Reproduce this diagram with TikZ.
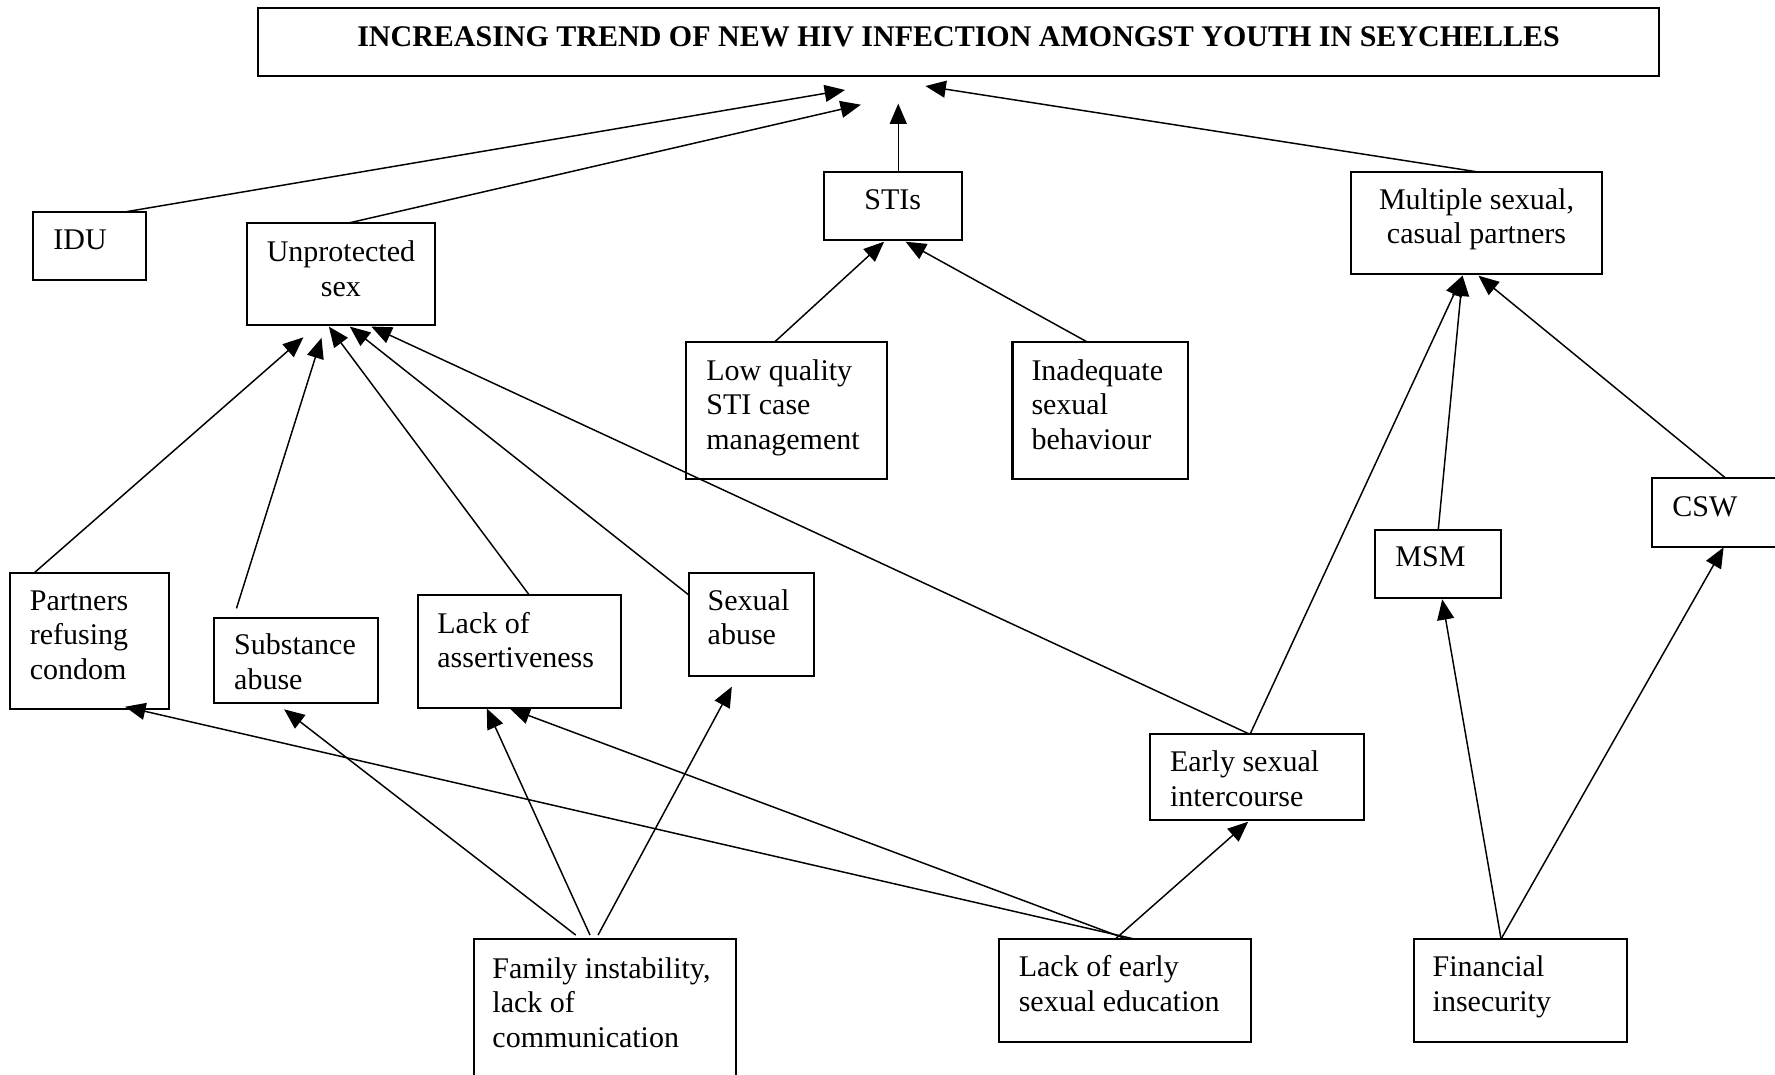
\documentclass[tikz,border=0pt]{standalone}
\usepackage{fontspec}
\setmainfont{Liberation Serif}
\usetikzlibrary{arrows.meta}
\tikzset{
  box/.style={draw=black, line width=1.8pt, inner sep=0pt, outer sep=0pt, anchor=north west},
  txt/.style={inner sep=0pt, outer sep=0pt, font=\fontsize{26.5}{30.5}\selectfont, align=left, anchor=north west},
  ctxt/.style={txt, align=center, anchor=north},
  conn/.style={line width=1.3pt, -{Triangle[length=18pt,width=15pt]}}
}
\begin{document}
\begin{tikzpicture}[x=1pt,y=-1pt]
\fill[white] (0,0) rectangle (1568,948.75);
\useasboundingbox (0,0) rectangle (1568,948.75);
% boxes
\node[box, minimum width=1237.6pt, minimum height=59.6pt] (title) at (228,7.4) {};
\node[box, minimum width=99.9pt, minimum height=60.4pt] (idu) at (29.4,187) {};
\node[box, minimum width=166.3pt, minimum height=90.4pt] (unprot) at (218,196.7) {};
\node[box, minimum width=121.8pt, minimum height=60.3pt] (stis) at (727.7,151.7) {};
\node[box, minimum width=221.8pt, minimum height=90.3pt] (multi) at (1193.4,151.7) {};
\node[box, minimum width=177.4pt, minimum height=121.4pt] (lowq) at (606,301.8) {};
\node[box, minimum width=155.3pt, minimum height=121.4pt] (inadq) at (894.4,301.8) {};
\node[box, minimum width=112pt, minimum height=60.3pt] (csw) at (1459.1,422.6) {};
\node[box, minimum width=111pt, minimum height=59.8pt] (msm) at (1215,468.2) {};
\node[box, minimum width=140.5pt, minimum height=120.7pt] (partners) at (9.1,505.9) {};
\node[box, minimum width=144.7pt, minimum height=75.1pt] (subst) at (189,546.2) {};
\node[box, minimum width=179.4pt, minimum height=100.2pt] (assert) at (369.2,525.6) {};
\node[box, minimum width=110.6pt, minimum height=91.3pt] (sexab) at (608.5,505.9) {};
\node[box, minimum width=189pt, minimum height=75.7pt] (early) at (1016,648.7) {};
\node[box, minimum width=231.7pt, minimum height=124pt] (family) at (418.3,829.8) {};
\node[box, minimum width=222.8pt, minimum height=90.7pt] (lackedu) at (882.3,829.5) {};
\node[box, minimum width=188.1pt, minimum height=90.7pt] (fin) at (1248.9,829.5) {};
% texts
\node[ctxt, font=\fontsize{26.5}{30.5}\selectfont\bfseries] (title-t) at (846.8,19.65) {\strut INCREASING TREND OF NEW HIV INFECTION AMONGST YOUTH IN SEYCHELLES};
\node[txt] (idu-t) at (47.2,199.45) {\strut IDU};
\node[ctxt] (unprot-t) at (301.2,209.65) {\strut Unprotected\\sex};
\node[ctxt] (stis-t) at (788.6,164.15) {\strut STIs};
\node[ctxt] (multi-t) at (1304.3,163.35) {\strut Multiple sexual,\\casual partners};
\node[txt] (lowq-t) at (624,314.35) {\strut Low quality\\STI case\\management};
\node[txt] (inadq-t) at (911.2,314.35) {\strut Inadequate\\sexual\\behaviour};
\node[txt] (csw-t) at (1477.3,435.05) {\strut CSW};
\node[txt] (msm-t) at (1232.7,479.25) {\strut MSM};
\node[txt] (partners-t) at (26.4,517.55) {\strut Partners\\refusing\\condom};
\node[txt] (subst-t) at (206.9,557.25) {\strut Substance\\abuse};
\node[txt] (assert-t) at (386.4,538.15) {\strut Lack of\\assertiveness};
\node[txt] (sexab-t) at (625.2,517.55) {\strut Sexual\\abuse};
\node[txt] (early-t) at (1033.6,660.35) {\strut Early sexual\\intercourse};
\node[txt] (family-t) at (435,842.95) {\strut Family instability,\\lack of\\communication};
\node[txt] (lackedu-t) at (900,841.45) {\strut Lack of early\\sexual education};
\node[txt] (fin-t) at (1265.6,841.45) {\strut Financial\\insecurity};
% arrow tips
\coordinate (t1) at (746.5,79.5);
\coordinate (t2) at (760.5,92.5);
\coordinate (t3) at (793.5,91.5);
\coordinate (t4) at (817.5,76);
\coordinate (t5) at (781,213.5);
\coordinate (t6) at (800,213.5);
\coordinate (t7) at (268,298);
\coordinate (t8) at (284,298.5);
\coordinate (t9) at (290.5,288.5);
\coordinate (t10) at (309,288.5);
\coordinate (t11) at (328,288.5);
\coordinate (t12) at (1292,243.5);
\coordinate (t14) at (1306,243.5);
\coordinate (t15) at (251,626.6);
\coordinate (t16) at (430,625.8);
\coordinate (t17) at (646.5,606.6);
\coordinate (t18) at (110.5,624.3);
\coordinate (t19) at (450.2,625.8);
\coordinate (t20) at (1102.6,725.9);
\coordinate (t21) at (1274,529.4);
\coordinate (t22) at (1522.6,483.5);
% connectors
\draw[conn] ([xshift=82.2pt]idu.north west) -- (t1);
\draw[conn] ([xshift=91.3pt]unprot.north west) -- (t2);
\draw[conn] ([xshift=65.8pt]stis.north west) -- (t3);
\draw[conn] (multi.north) -- (t4);
\draw[conn] ([xshift=78.6pt]lowq.north west) -- (t5);
\draw[conn] ([xshift=65.5pt]inadq.north west) -- (t6);
\draw[conn] ([xshift=21.3pt]partners.north west) -- (t7);
\draw[conn] ([xshift=19.9pt,yshift=8.8pt]subst.north west) -- (t8);
\draw[conn] ([xshift=98.3pt]assert.north west) -- (t9);
\draw[conn] ([yshift=-19.7pt]sexab.north west) -- (t10);
\draw[conn] ([xshift=88.2pt]early.north west) -- (t11);
\draw[conn] ([xshift=88.2pt]early.north west) -- (t12);
\draw[conn] ([xshift=55.5pt]msm.north west) -- (t12);
\draw[conn] ([xshift=65.6pt]csw.north west) -- (t14);
\draw[conn] ([xshift=90.3pt,yshift=3.8pt]family.north west) -- (t15);
\draw[conn] ([xshift=102.9pt,yshift=3.8pt]family.north west) -- (t16);
\draw[conn] ([xshift=110pt,yshift=3.8pt]family.north west) -- (t17);
\draw[conn] ([xshift=119.7pt]lackedu.north west) -- (t18);
\draw[conn] ([xshift=112.7pt]lackedu.north west) -- (t19);
\draw[conn] ([xshift=102.9pt]lackedu.north west) -- (t20);
\draw[conn] ([xshift=77.1pt]fin.north west) -- (t21);
\draw[conn] ([xshift=77.1pt]fin.north west) -- (t22);
\end{tikzpicture}
\end{document}
